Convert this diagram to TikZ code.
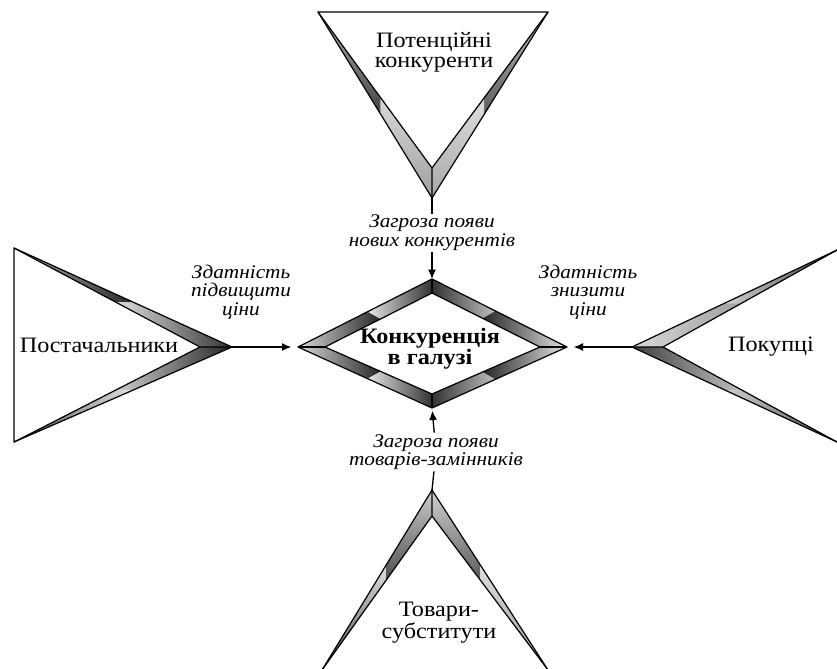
\documentclass[tikz,border=0pt]{standalone}
\usepackage{fontspec}
\setmainfont{Liberation Serif}[FakeStretch=1.1]
\usetikzlibrary{arrows.meta, positioning, calc}

\begin{document}
\begin{tikzpicture}[
    x=0.75pt, y=-0.75pt,
    outline/.style ={draw=black, line width=0.9pt, line join=round},
    party/.style   ={align=center, font=\fontsize{16.5}{15}\selectfont},
    rival/.style   ={align=center, font=\bfseries\fontsize{16.5}{14}\selectfont},
    force/.style   ={align=center, font=\itshape\fontsize{14.5}{14}\selectfont, inner sep=1pt},
    link/.style    ={line width=1pt},
    arrow/.style   ={-{Latex[length=7pt,width=6pt]}, line width=1pt},
    ]
    \useasboundingbox (0,0) rectangle (837,668);

    % --- Corner points ---
    \coordinate (pot_l) at (318,12);   \coordinate (pot_r) at (548,12);
    \coordinate (pot_o) at (432,198);  \coordinate (pot_i) at (432,168);
    \coordinate (sup_t) at (14,248);   \coordinate (sup_b) at (14,442);
    \coordinate (sup_o) at (232,347);  \coordinate (sup_i) at (200,347);
    \coordinate (buy_t) at (837,250);  \coordinate (buy_b) at (837,442);
    \coordinate (buy_o) at (632,347);  \coordinate (buy_i) at (663,347);
    \coordinate (sub_l) at (322,670);  \coordinate (sub_r) at (548,670);
    \coordinate (sub_o) at (432,490);  \coordinate (sub_i) at (432,516);
    \coordinate (dia_t) at (432,279);  \coordinate (dia_ti) at (432,293);
    \coordinate (dia_r) at (567,347);  \coordinate (dia_ri) at (540,347);
    \coordinate (dia_b) at (432,408);  \coordinate (dia_bi) at (432,394);
    \coordinate (dia_l) at (298,347);  \coordinate (dia_li) at (325,347);

    % --- Potential entrants (top) ---
    \shade[top color=gray!60, bottom color=black!75] (pot_l) -- ($(pot_l)!0.55!(pot_o)$) -- ($(pot_l)!0.55!(pot_i)$) -- cycle;
    \shade[top color=gray!30, bottom color=gray!75] ($(pot_l)!0.55!(pot_o)$) -- (pot_o) -- (pot_i) -- ($(pot_l)!0.55!(pot_i)$) -- cycle;
    \shade[top color=gray!50, bottom color=black!65] (pot_r) -- ($(pot_r)!0.55!(pot_o)$) -- ($(pot_r)!0.55!(pot_i)$) -- cycle;
    \shade[top color=gray!25, bottom color=gray!70] ($(pot_r)!0.55!(pot_o)$) -- (pot_o) -- (pot_i) -- ($(pot_r)!0.55!(pot_i)$) -- cycle;
    \draw[outline] (pot_l) -- (pot_r) -- (pot_o) -- cycle;
    \draw[outline] (pot_l) -- (pot_i) -- (pot_r) (pot_i) -- (pot_o);

    % --- Suppliers (left) ---
    \shade[left color=gray!60, right color=black!85] (sup_t) -- ($(sup_t)!0.55!(sup_o)$) -- ($(sup_t)!0.55!(sup_i)$) -- cycle;
    \shade[left color=gray!25, right color=black!80] ($(sup_t)!0.55!(sup_o)$) -- (sup_o) -- (sup_i) -- ($(sup_t)!0.55!(sup_i)$) -- cycle;
    \shade[left color=black!70, right color=gray!20] (sup_b) -- ($(sup_b)!0.55!(sup_o)$) -- ($(sup_b)!0.55!(sup_i)$) -- cycle;
    \shade[left color=gray!40, right color=black!85] ($(sup_b)!0.55!(sup_o)$) -- (sup_o) -- (sup_i) -- ($(sup_b)!0.55!(sup_i)$) -- cycle;
    \draw[outline] (sup_t) -- (sup_o) -- (sup_b) -- cycle;
    \draw[outline] (sup_t) -- (sup_i) -- (sup_b) (sup_i) -- (sup_o);

    % --- Buyers (right) ---
    \shade[left color=gray!35, right color=black!75] (buy_t) -- ($(buy_t)!0.55!(buy_o)$) -- ($(buy_t)!0.55!(buy_i)$) -- cycle;
    \shade[left color=gray!30, right color=gray!75] ($(buy_t)!0.55!(buy_o)$) -- (buy_o) -- (buy_i) -- ($(buy_t)!0.55!(buy_i)$) -- cycle;
    \shade[left color=gray!35, right color=black!70] (buy_b) -- ($(buy_b)!0.55!(buy_o)$) -- ($(buy_b)!0.55!(buy_i)$) -- cycle;
    \shade[left color=black!75, right color=gray!50] ($(buy_b)!0.55!(buy_o)$) -- (buy_o) -- (buy_i) -- ($(buy_b)!0.55!(buy_i)$) -- cycle;
    \draw[outline] (buy_t) -- (buy_o) -- (buy_b);
    \draw[outline] (buy_t) -- (buy_i) -- (buy_b) (buy_i) -- (buy_o);

    % --- Substitutes (bottom) ---
    \shade[top color=gray!40, bottom color=black!70] (sub_o) -- ($(sub_o)!0.42!(sub_l)$) -- ($(sub_i)!0.42!(sub_l)$) -- (sub_i) -- cycle;
    \shade[top color=gray!25, bottom color=black!70] ($(sub_o)!0.42!(sub_l)$) -- (sub_l) -- ($(sub_i)!0.42!(sub_l)$) -- cycle;
    \shade[top color=gray!35, bottom color=black!65] (sub_o) -- ($(sub_o)!0.42!(sub_r)$) -- ($(sub_i)!0.42!(sub_r)$) -- (sub_i) -- cycle;
    \shade[top color=gray!25, bottom color=gray!80] ($(sub_o)!0.42!(sub_r)$) -- (sub_r) -- ($(sub_i)!0.42!(sub_r)$) -- cycle;
    \draw[outline] (sub_l) -- (sub_o) -- (sub_r);
    \draw[outline] (sub_l) -- (sub_i) -- (sub_r) (sub_i) -- (sub_o);

    % --- Rivalry diamond ---
    \shade[left color=gray!30, right color=black!85] (dia_l) -- ($(dia_l)!0.52!(dia_t)$) -- ($(dia_li)!0.52!(dia_ti)$) -- (dia_li) -- cycle;
    \shade[left color=gray!20, right color=black!80] ($(dia_l)!0.52!(dia_t)$) -- (dia_t) -- (dia_ti) -- ($(dia_li)!0.52!(dia_ti)$) -- cycle;
    \shade[left color=gray!30, right color=black!85] (dia_l) -- ($(dia_l)!0.52!(dia_b)$) -- ($(dia_li)!0.52!(dia_bi)$) -- (dia_li) -- cycle;
    \shade[left color=gray!20, right color=black!80] ($(dia_l)!0.52!(dia_b)$) -- (dia_b) -- (dia_bi) -- ($(dia_li)!0.52!(dia_bi)$) -- cycle;
    \shade[left color=black!80, right color=gray!50] (dia_t) -- ($(dia_t)!0.47!(dia_r)$) -- ($(dia_ti)!0.47!(dia_ri)$) -- (dia_ti) -- cycle;
    \shade[left color=black!85, right color=gray!20] ($(dia_t)!0.47!(dia_r)$) -- (dia_r) -- (dia_ri) -- ($(dia_ti)!0.47!(dia_ri)$) -- cycle;
    \shade[left color=black!80, right color=gray!50] (dia_b) -- ($(dia_b)!0.47!(dia_r)$) -- ($(dia_bi)!0.47!(dia_ri)$) -- (dia_bi) -- cycle;
    \shade[left color=black!85, right color=gray!20] ($(dia_b)!0.47!(dia_r)$) -- (dia_r) -- (dia_ri) -- ($(dia_bi)!0.47!(dia_ri)$) -- cycle;
    \draw[outline] (dia_t) -- (dia_r) -- (dia_b) -- (dia_l) -- cycle;
    \draw[outline] (dia_ti) -- (dia_ri) -- (dia_bi) -- (dia_li) -- cycle;
    \draw[outline] (dia_t) -- (dia_ti) (dia_r) -- (dia_ri) (dia_b) -- (dia_bi) (dia_l) -- (dia_li);

    % --- Texts ---
    \node[party] (pot) at (434,52) {Потенційні\\конкуренти};
    \node[party] (sup) at (99,345) {Постачальники};
    \node[party] (buy) at (771,347) {Покупці};
    \node[party] (sub) at (439,623) {Товари-\\субститути};
    \node[rival] (rivalry) at (430,349) {Конкуренція\\в галузі};

    \node[force] (threat_new) at (432,233) {Загроза появи\\нових конкурентів};
    \node[force] (power_sup) at (241,292) {Здатність\\підвищити\\ціни};
    \node[force] (power_buy) at (588,292) {Здатність\\знизити\\ціни};
    \node[force] (threat_sub) at (436,452) {Загроза появи\\товарів-замінників};

    % --- Connections ---
    \draw[link] (pot_o) -- (threat_new);
    \draw[arrow] (threat_new) -- (dia_t);
    \draw[arrow, shorten >=5pt] (sup_o) -- (dia_l);
    \draw[arrow, shorten >=5pt] (buy_o) -- (dia_r);
    \draw[link] (sub_o) -- (threat_sub);
    \draw[arrow, shorten >=2pt] (threat_sub) -- (dia_b);

\end{tikzpicture}
\end{document}
